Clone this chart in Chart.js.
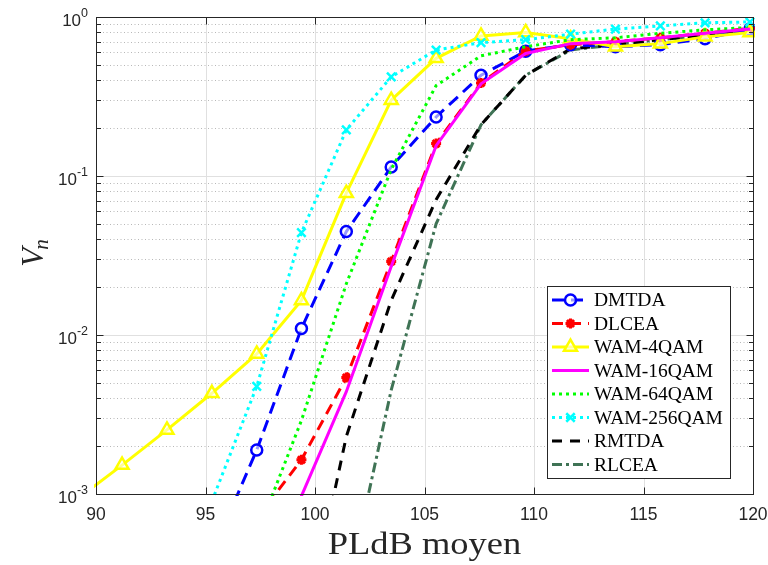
<!DOCTYPE html>
<html>
<head>
<meta charset="utf-8">
<script src="https://cdn.jsdelivr.net/npm/chart.js@4.4.0/dist/chart.umd.min.js"></script>
<style>
	html, body { margin: 0; padding: 0; background: #fff; }
	#wrap { width: 768px; height: 565px; }
</style>
</head>
<body>
<div id="wrap"><canvas id="chart" width="768" height="565"></canvas></div>
<script>
// mean PLdB of each simulation point
const pldb = [89.14, 91.19, 93.24, 95.29, 97.34, 99.38, 101.43, 103.48, 105.53, 107.58, 109.62, 111.67, 113.72, 115.77, 117.81, 119.86]

// V_n per method (null = far below the axis)
const dmtda = [null, null, null, 0.00042, 0.00189, 0.011, 0.0447, 0.114, 0.235, 0.43, 0.61, 0.67, 0.65, 0.67, 0.73, 0.84]
const dlcea = [null, null, null, null, 0.0007, 0.00164, 0.0054, 0.029, 0.16, 0.385, 0.61, 0.67, 0.70, 0.74, 0.79, 0.85]
const wam4 = [0.00093, 0.00152, 0.00253, 0.0043, 0.0076, 0.0165, 0.078, 0.30, 0.55, 0.76, 0.80, 0.73, 0.65, 0.68, 0.75, 0.80]
const wam16 = [null, null, null, null, 0.0002, 0.00097, 0.0044, 0.027, 0.155, 0.38, 0.59, 0.68, 0.70, 0.74, 0.79, 0.84]
const wam64 = [null, null, null, null, 0.00055, 0.0029, 0.021, 0.11, 0.37, 0.57, 0.65, 0.72, 0.74, 0.79, 0.83, 0.86]
const wam256 = [null, null, null, 0.0009, 0.00475, 0.044, 0.195, 0.42, 0.62, 0.69, 0.72, 0.78, 0.84, 0.88, 0.92, 0.93]
const rmtda = [null, null, null, null, null, 0.00011, 0.0023, 0.0165, 0.071, 0.21, 0.43, 0.63, 0.67, 0.72, 0.77, 0.83]
const rlcea = [null, null, null, null, null, null, 0.00023, 0.0045, 0.05, 0.21, 0.43, 0.62, 0.67, 0.72, 0.77, 0.83]

const xTicks = [90, 95, 100, 105, 110, 115, 120]
const yExponents = [-3, -2, -1, 0]
const xTitle = "PLdB moyen"

const series = [
	{label: "DMTDA", data: dmtda, color: "#0000ff", dash: [12, 7], style: "circle", radius: 5.5, order: 6},
	{label: "DLCEA", data: dlcea, color: "#ff0000", dash: [11, 7], style: "star", radius: 5, order: 5},
	{label: "WAM-4QAM", data: wam4, color: "#ffff00", dash: [], style: "triangle", radius: 7.5, order: 4},
	{label: "WAM-16QAM", data: wam16, color: "#ff00ff", dash: [], style: false, radius: 0, order: 2},
	{label: "WAM-64QAM", data: wam64, color: "#00ff00", dash: [3, 4], style: false, radius: 0, order: 3},
	{label: "WAM-256QAM", data: wam256, color: "#00ffff", dash: [3, 4], style: "crossRot", radius: 6, order: 1},
	{label: "RMTDA", data: rmtda, color: "#000000", dash: [10, 8], style: false, radius: 0, order: 7},
	{label: "RLCEA", data: rlcea, color: "#3f7355", dash: [10, 4, 3, 4], style: false, radius: 0, order: 8}
]

const axisColor = "#262626"

function crisp(v) {
	return Math.round(v) + 0.5
}

function drawGrid(chart) {
	const ctx = chart.ctx
	const area = chart.chartArea
	const xs = chart.scales.x
	const ys = chart.scales.y
	ctx.save()
	ctx.lineWidth = 1
	// minor dotted lines on the log axis
	ctx.strokeStyle = "#b8b8b8"
	ctx.setLineDash([1, 2.5])
	for (let e of yExponents.slice(0, -1)) {
		for (let m = 2; m <= 9; m++) {
			const y = crisp(ys.getPixelForValue(m * Math.pow(10, e)))
			ctx.beginPath()
			ctx.moveTo(area.left, y)
			ctx.lineTo(area.right, y)
			ctx.stroke()
		}
	}
	ctx.setLineDash([])
	ctx.strokeStyle = "#e0e0e0"
	for (let t of xTicks.slice(1, -1)) {
		const x = crisp(xs.getPixelForValue(t))
		ctx.beginPath()
		ctx.moveTo(x, area.top)
		ctx.lineTo(x, area.bottom)
		ctx.stroke()
	}
	for (let e of yExponents.slice(1, -1)) {
		const y = crisp(ys.getPixelForValue(Math.pow(10, e)))
		ctx.beginPath()
		ctx.moveTo(area.left, y)
		ctx.lineTo(area.right, y)
		ctx.stroke()
	}
	ctx.restore()
}

function drawAxes(chart) {
	const ctx = chart.ctx
	const area = chart.chartArea
	const xs = chart.scales.x
	const ys = chart.scales.y
	const left = crisp(area.left), right = crisp(area.right)
	const top = crisp(area.top), bottom = crisp(area.bottom)
	ctx.save()
	ctx.strokeStyle = axisColor
	ctx.lineWidth = 1
	ctx.setLineDash([])
	ctx.strokeRect(left, top, right - left, bottom - top)

	ctx.beginPath()
	for (let t of xTicks) {
		const x = crisp(xs.getPixelForValue(t))
		ctx.moveTo(x, bottom)
		ctx.lineTo(x, bottom - 7)
		ctx.moveTo(x, top)
		ctx.lineTo(x, top + 7)
	}
	for (let e of yExponents) {
		const y = crisp(ys.getPixelForValue(Math.pow(10, e)))
		ctx.moveTo(left, y)
		ctx.lineTo(left + 7, y)
		ctx.moveTo(right, y)
		ctx.lineTo(right - 7, y)
		if (e === 0) continue
		for (let m = 2; m <= 9; m++) {
			const ym = crisp(ys.getPixelForValue(m * Math.pow(10, e)))
			ctx.moveTo(left, ym)
			ctx.lineTo(left + 4.5, ym)
			ctx.moveTo(right, ym)
			ctx.lineTo(right - 4.5, ym)
		}
	}
	ctx.stroke()

	// tick labels
	ctx.fillStyle = axisColor
	ctx.font = "17.5px 'Liberation Sans'"
	ctx.textAlign = "center"
	ctx.textBaseline = "top"
	for (let t of xTicks) {
		ctx.fillText(String(t), xs.getPixelForValue(t), area.bottom + 12)
	}
	ctx.textBaseline = "alphabetic"
	for (let e of yExponents) {
		const y = ys.getPixelForValue(Math.pow(10, e))
		const sup = String(e)
		ctx.font = "12.5px 'Liberation Sans'"
		const wSup = ctx.measureText(sup).width
		ctx.textAlign = "right"
		ctx.fillText(sup, area.left - 8, y)
		ctx.font = "17px 'Liberation Sans'"
		ctx.fillText("10", area.left - 8 - wSup, y + 8.5)
	}

	// x title, stretched a little like the LaTeX font
	ctx.fillStyle = "#262626"
	ctx.font = "32px 'Liberation Serif'"
	ctx.textAlign = "center"
	ctx.save()
	ctx.translate((area.left + area.right) / 2, 554)
	ctx.scale(1.14, 1)
	ctx.fillText(xTitle, 0, 0)
	ctx.restore()

	// y title V_n
	ctx.save()
	ctx.translate(33, 252)
	ctx.rotate(-Math.PI / 2)
	ctx.font = "italic 31px 'Liberation Serif'"
	const wV = ctx.measureText("V").width
	ctx.font = "italic 21px 'Liberation Serif'"
	const wN = ctx.measureText("n").width
	ctx.textAlign = "left"
	const x0 = -(wV + wN) / 2
	ctx.font = "italic 31px 'Liberation Serif'"
	ctx.fillText("V", x0, 10)
	ctx.font = "italic 21px 'Liberation Serif'"
	ctx.fillText("n", x0 + wV - 2, 15)
	ctx.restore()
	ctx.restore()
}

function drawLegend(chart) {
	const ctx = chart.ctx
	const area = chart.chartArea
	const boxRight = area.right - 23
	const boxBottom = area.bottom - 16
	const rowH = 23.5
	const boxW = 183
	const boxH = rowH * series.length + 4
	const boxLeft = boxRight - boxW
	const boxTop = boxBottom - boxH
	ctx.save()
	ctx.fillStyle = "#ffffff"
	ctx.fillRect(boxLeft, boxTop, boxW, boxH)
	ctx.strokeStyle = axisColor
	ctx.lineWidth = 1
	ctx.setLineDash([])
	ctx.strokeRect(crisp(boxLeft), crisp(boxTop), boxW, boxH)

	series.forEach((s, i) => {
		const y = boxTop + 14 + i * rowH
		const x1 = boxLeft + 5, x2 = boxLeft + 42
		ctx.strokeStyle = s.color
		ctx.lineWidth = 3
		ctx.setLineDash(s.dash)
		ctx.beginPath()
		ctx.moveTo(x1, y)
		ctx.lineTo(x2, y)
		ctx.stroke()
		if (s.style) {
			ctx.setLineDash([])
			ctx.lineWidth = s.style === "star" ? 3 : 2.5
			ctx.fillStyle = s.style === "star" ? s.color : "rgba(255,255,255,0.6)"
			Chart.helpers.drawPoint(ctx, {pointStyle: s.style, radius: s.radius, borderWidth: ctx.lineWidth, rotation: 0}, (x1 + x2) / 2, y)
		}
		ctx.fillStyle = "#000000"
		ctx.font = "19.5px 'Liberation Serif'"
		ctx.textAlign = "left"
		ctx.textBaseline = "middle"
		ctx.fillText(s.label, x2 + 5, y + 1)
	})
	ctx.restore()
}

const matlabLook = {
	id: "matlabLook",
	beforeDatasetsDraw(chart) {
		drawGrid(chart)
	},
	afterDatasetsDraw(chart) {
		drawAxes(chart)
		drawLegend(chart)
	}
}

const ctx = document.getElementById("chart").getContext("2d")
new Chart(ctx, {
	type: "line",
	data: {
		datasets: series.map(s => ({
			label: s.label,
			data: pldb.map((x, i) => ({x, y: s.data[i]})),
			borderColor: s.color,
			borderWidth: 3,
			borderDash: s.dash,
			pointStyle: s.style,
			pointRadius: s.radius,
			pointBorderColor: s.color,
			pointBackgroundColor: s.style === "star" ? s.color : "rgba(255,255,255,0.6)",
			pointBorderWidth: s.style === "star" ? 3 : 2.5,
			tension: 0,
			fill: false,
			order: s.order,
			clip: 2
		}))
	},
	options: {
		responsive: false,
		animation: false,
		layout: {padding: {left: 96, right: 15, top: 17, bottom: 71}},
		plugins: {legend: {display: false}, tooltip: {enabled: false}},
		scales: {
			x: {type: "linear", min: 90, max: 120, display: false},
			y: {type: "logarithmic", min: 0.001, max: 1, display: false}
		}
	},
	plugins: [matlabLook]
})
</script>
</body>
</html>
